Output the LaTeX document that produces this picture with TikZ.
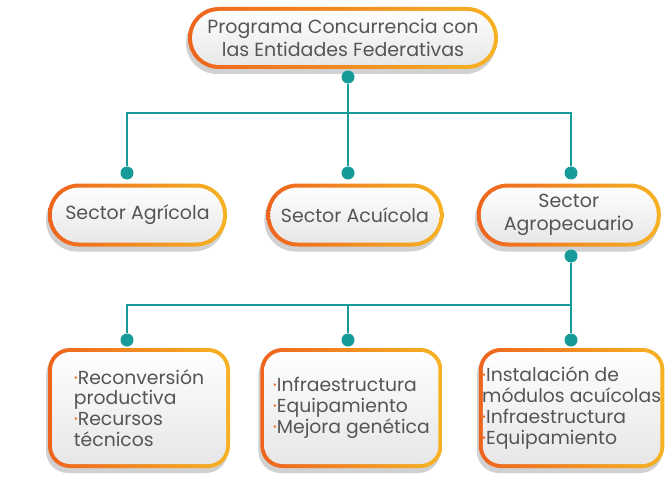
\documentclass[tikz,border=0pt]{standalone}
\usepackage{fontspec}
\setmainfont{Poppins}
\usetikzlibrary{positioning, shadows, calc}
\definecolor{myorange}{HTML}{EE641E}
\definecolor{myyellow}{HTML}{F6B324}
\definecolor{myteal}{HTML}{179A9A}
\definecolor{mytext}{HTML}{555555}
\definecolor{myfill}{HTML}{E6E6E6}
\newcommand\rw{4pt}
\newcommand\bul{\textcolor{myorange}{·}}

\tikzset{
  ringbox/.style={left color=myorange, right color=myyellow, rounded corners=#1, text=mytext,
    drop shadow={shadow xshift=-2pt, shadow yshift=-5pt, fill=black!45, opacity=0.4},
    path picture={\shade[top color=white, bottom color=myfill, rounded corners=#1-\rw]
      ($(path picture bounding box.south west)+(\rw,\rw)$) rectangle ($(path picture bounding box.north east)-(\rw,\rw)$);}},
  pill/.style={ringbox=31pt, minimum height=63pt, align=center, font=\fontsize{19}{22.5}\selectfont},
  card/.style={ringbox=22pt, minimum height=120pt, align=left, font=\fontsize{18.8}{20.8}\selectfont},
  dot/.style={circle, fill=myteal, inner sep=0pt, minimum size=13pt},
  link/.style={draw=myteal, line width=2.5pt},
}

\begin{document}
\begin{tikzpicture}[x=1pt, y=-1pt]
    \useasboundingbox[fill=white] (0,0) rectangle (666,484);

    \node (prog) [pill, minimum width=310pt, minimum height=62pt] at (343,38) {Programa Concurrencia con\\las Entidades Federativas};

    \node (agri) [pill, minimum width=179pt] at (137.5,215) {Sector Agrícola};
    \node (acui) [pill, minimum width=177pt, right=39pt of agri] {Sector Acuícola};
    \node (agro) [pill, minimum width=184pt, right=33pt of acui] {Sector\\Agropecuario};

    \node (reco) [card, minimum width=182pt] at (139,408) {\bul Reconversión\\productiva\\\bul Recursos\\técnicos};
    \node (infra) [card, minimum width=182pt, right=30pt of reco] {\bul Infraestructura\\\bul Equipamiento\\\bul Mejora genética};
    \node (inst) [card, minimum width=179pt, right=36pt of infra] {\bul Instalación de\\módulos acuícolas\\\bul Infraestructura\\\bul Equipamiento};

    % upper branch
    \node (d0) [dot] at (348,77) {};
    \node (d1) [dot] at (127,173) {};
    \node (d2) [dot] at (348,173) {};
    \node (d3) [dot] at (571,173) {};
    \coordinate (bus1) at (348,113);
    \draw[link] (d0) -- (d2);
    \draw[link] (d1) |- (bus1) -| (d3);

    % lower branch
    \node (d4) [dot] at (571,256) {};
    \node (d5) [dot] at (127,340) {};
    \node (d6) [dot] at (348,340) {};
    \node (d7) [dot] at (571,340) {};
    \coordinate (bus2) at (571,305);
    \draw[link] (d4) -- (d7);
    \draw[link] (d5) |- (bus2);
    \draw[link] (d6) -- (d6|-bus2);

\end{tikzpicture}
\end{document}
